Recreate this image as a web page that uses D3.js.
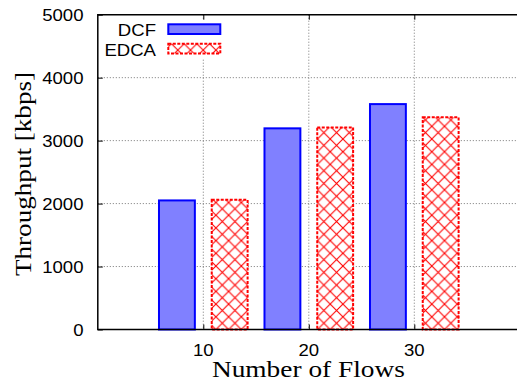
<!DOCTYPE html>
<html>
<head>
<meta charset="utf-8">
<script src="https://cdn.jsdelivr.net/npm/d3@7"></script>
<style>
  html, body { margin: 0; padding: 0; background: #fff; }
  svg { display: block; }
  .sans { font-family: "Liberation Sans", Arial, Helvetica, sans-serif; }
  .serif { font-family: "Liberation Serif", "Times New Roman", serif; }
</style>
</head>
<body>
<svg id="chart" width="517" height="388"></svg>
<script>
// Throughput of DCF vs EDCA for different numbers of flows
const flows = [10, 20, 30];
const dcfValues = [2050, 3195, 3580];
const edcaValues = [2060, 3210, 3370];
const yTicks = [0, 1000, 2000, 3000, 4000, 5000];
const xTicks = [10, 20, 30];
const seriesNames = ["DCF", "EDCA"];

const svg = d3.select("#chart");
const plotL = 97.8, plotT = 14.7, plotB = 329.5, plotR = 519.8;

const x = d3.scaleLinear().domain([0, 40]).range([plotL, plotR]);
const y = d3.scaleLinear().domain([0, 5000]).range([plotB, plotT]);

const barWidth = 3.4;
const offset = 2.5;

// crosshatch pattern for EDCA
const defs = svg.append("defs");
const P = 12.7;
const pat = defs.append("pattern")
  .attr("id", "hatch")
  .attr("patternUnits", "userSpaceOnUse")
  .attr("width", P).attr("height", P)
  .attr("x", 0).attr("y", plotB);
pat.append("rect").attr("width", P).attr("height", P).attr("fill", "#fff");
pat.append("path")
  .attr("d", `M0,0L${P},${P}M0,${P}L${P},0`)
  .attr("stroke", "#ff0000").attr("stroke-width", 1.1).attr("fill", "none");

// grid lines (dotted)
const grid = svg.append("g");
grid.selectAll("line.h").data(yTicks.filter(d => d > 0 && d < 5000)).join("line")
  .attr("class", "h")
  .attr("x1", plotL).attr("x2", plotR)
  .attr("y1", d => y(d)).attr("y2", d => y(d))
  .attr("stroke", "#777").attr("stroke-width", 1).attr("stroke-dasharray", "1,2");
grid.selectAll("line.v").data(xTicks).join("line")
  .attr("class", "v")
  .attr("x1", d => x(d)).attr("x2", d => x(d))
  .attr("y1", plotT).attr("y2", plotB)
  .attr("stroke", "#777").attr("stroke-width", 1).attr("stroke-dasharray", "1,2");

// axes (inward ticks, labels drawn separately)
svg.append("g").attr("transform", `translate(${plotL},0)`)
  .call(d3.axisRight(y).tickValues(yTicks).tickSize(5).tickFormat(""))
  .call(g => g.select(".domain").remove())
  .selectAll("line").attr("stroke", "#000");
svg.append("g").attr("transform", `translate(0,${plotB})`)
  .call(d3.axisTop(x).tickValues(xTicks).tickSize(5).tickFormat(""))
  .call(g => g.select(".domain").remove())
  .selectAll("line").attr("stroke", "#000");
svg.append("g").attr("transform", `translate(0,${plotT})`)
  .call(d3.axisBottom(x).tickValues(xTicks).tickSize(5).tickFormat(""))
  .call(g => g.select(".domain").remove())
  .selectAll("line").attr("stroke", "#000");

// legend background
svg.append("rect").attr("x", 105).attr("y", 20).attr("width", 125).attr("height", 39).attr("fill", "#fff");

// bars
const dcfRows = flows.map((f, i) => ({ f, v: dcfValues[i] }));
const edcaRows = flows.map((f, i) => ({ f, v: edcaValues[i] }));

svg.append("g").selectAll("rect").data(dcfRows).join("rect")
  .attr("x", d => x(d.f - offset - barWidth / 2))
  .attr("width", d => x(d.f - offset + barWidth / 2) - x(d.f - offset - barWidth / 2))
  .attr("y", d => y(d.v))
  .attr("height", d => y(0) - y(d.v))
  .attr("fill", "#8080ff").attr("stroke", "#0000ff").attr("stroke-width", 2);

svg.append("g").selectAll("rect").data(edcaRows).join("rect")
  .attr("x", d => x(d.f + offset - barWidth / 2))
  .attr("width", d => x(d.f + offset + barWidth / 2) - x(d.f + offset - barWidth / 2))
  .attr("y", d => y(d.v))
  .attr("height", d => y(0) - y(d.v))
  .attr("fill", "url(#hatch)").attr("stroke", "#ff0000").attr("stroke-width", 2)
  .attr("stroke-dasharray", "3,1.5");

// plot border (left, top, bottom)
svg.append("path")
  .attr("d", `M${plotR},${plotT}L${plotL},${plotT}L${plotL},${plotB}L${plotR},${plotB}`)
  .attr("fill", "none").attr("stroke", "#000").attr("stroke-width", 1.5);

// tick labels
const sx = 1.16;
svg.append("g").selectAll("text").data(yTicks).join("text")
  .attr("class", "sans")
  .attr("font-size", 16)
  .attr("text-anchor", "end")
  .attr("transform", d => `translate(83.5,${y(d) + 6}) scale(${sx},1)`)
  .text(d => d);
svg.append("g").selectAll("text").data(xTicks).join("text")
  .attr("class", "sans")
  .attr("font-size", 16)
  .attr("text-anchor", "middle")
  .attr("transform", d => `translate(${x(d)},356) scale(${sx},1)`)
  .text(d => d);

// axis titles
svg.append("text").attr("class", "serif").attr("font-size", 23)
  .attr("text-anchor", "middle")
  .attr("transform", `translate(308.4,377) scale(1.19,1)`)
  .text("Number of Flows");
svg.append("text").attr("class", "serif").attr("font-size", 23)
  .attr("text-anchor", "middle")
  .attr("transform", `translate(31,174) rotate(-90) scale(1.18,1)`)
  .text("Throughput [kbps]");

// legend
const legendRows = [
  { name: seriesNames[0], ty: 36, ry: 24.3, fill: "#8080ff", stroke: "#0000ff", dash: null },
  { name: seriesNames[1], ty: 55.5, ry: 43.7, fill: "url(#hatch)", stroke: "#ff0000", dash: "3,1.5" }
];
const lg = svg.append("g");
lg.selectAll("text").data(legendRows).join("text")
  .attr("class", "sans").attr("font-size", 16)
  .attr("text-anchor", "end")
  .attr("transform", d => `translate(156,${d.ty}) scale(${sx},1)`)
  .text(d => d.name);
lg.selectAll("rect").data(legendRows).join("rect")
  .attr("x", 168.3).attr("y", d => d.ry)
  .attr("width", 52).attr("height", 9.7)
  .attr("fill", d => d.fill).attr("stroke", d => d.stroke).attr("stroke-width", 2)
  .attr("stroke-dasharray", d => d.dash);
</script>
</body>
</html>
